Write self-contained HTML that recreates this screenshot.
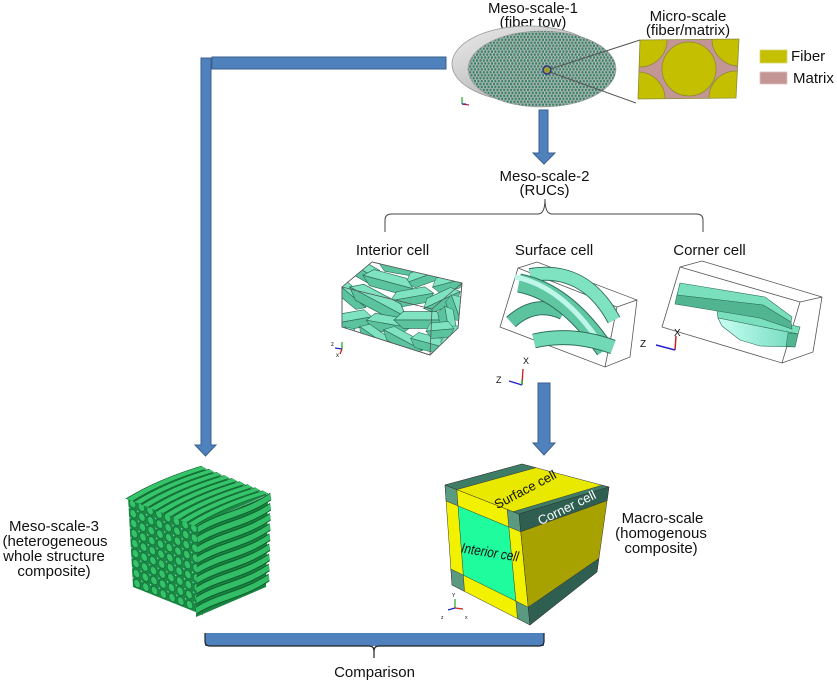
<!DOCTYPE html>
<html><head><meta charset="utf-8"><style>
html,body{margin:0;padding:0;background:#fff;}
svg{display:block;}
text{font-family:"Liberation Sans",Arial,sans-serif;fill:#111;}
</style></head><body>
<svg width="837" height="681" viewBox="0 0 837 681" xmlns="http://www.w3.org/2000/svg">
<defs>
  <pattern id="hexdots" patternUnits="userSpaceOnUse" width="3.4" height="5.9">
    <rect width="3.4" height="5.9" fill="#b6bab6"/>
    <circle cx="0.85" cy="1.47" r="1.35" fill="#38826a"/>
    <circle cx="2.55" cy="4.42" r="1.35" fill="#38826a"/>
  </pattern>
  <linearGradient id="grayg" x1="0" y1="0" x2="1" y2="1">
    <stop offset="0" stop-color="#ececec"/><stop offset="1" stop-color="#9c9c9c"/>
  </linearGradient>
  <pattern id="weavedots" patternUnits="userSpaceOnUse" width="12.5" height="11.1">
    <rect width="12.5" height="11.1" fill="#1a8a45"/>
    <circle cx="6.2" cy="5.5" r="4.6" fill="#34c26a" stroke="#11622f" stroke-width="0.8"/>
    <rect x="0" y="0" width="1.6" height="1.4" fill="#7fe8d6"/>
  </pattern>
  <linearGradient id="cyang" x1="0" y1="0" x2="1" y2="0">
    <stop offset="0" stop-color="#c8fff4"/><stop offset="1" stop-color="#6fd9bb"/>
  </linearGradient>
  <g id="hx">
    <path d="M-20,0 L-13,-6 L13,-6 L20,0 Z" fill="#7fe2c1" stroke="#2f6e5a" stroke-width="0.5"/>
    <path d="M-20,0 L20,0 L13,6 L-13,6 Z" fill="#5bc49f" stroke="#2f6e5a" stroke-width="0.5"/>
  </g>
  <clipPath id="microclip"><polygon points="640,40 739,39 736,98 638,99"/></clipPath>
  <clipPath id="intclip"><polygon points="342,287 372,262 462,283 458,328 430,355 342,327"/></clipPath>
</defs>

<!-- Left L arrow -->
<rect x="212" y="57" width="234" height="12" fill="#4f81bd" stroke="#3a5f8c" stroke-width="1"/>
<polygon points="201,58 211,58 211,445 216,445 205.5,456 195,445 201,445" fill="#4f81bd" stroke="#3a5f8c" stroke-width="1"/>

<!-- Meso-scale-1 -->
<text x="533" y="13" font-size="15" text-anchor="middle">Meso-scale-1</text>
<text x="533" y="27" font-size="15" text-anchor="middle">(fiber tow)</text>
<ellipse cx="528" cy="64" rx="76" ry="38" fill="url(#grayg)" stroke="#999" stroke-width="0.8"/>
<ellipse cx="542" cy="69" rx="74" ry="38" fill="url(#hexdots)" stroke="#999" stroke-width="0.6"/>
<line x1="547" y1="70" x2="640" y2="40" stroke="#555" stroke-width="1"/>
<line x1="547" y1="71" x2="636" y2="103" stroke="#555" stroke-width="1"/>
<circle cx="547" cy="70" r="4" fill="#9d9d35" stroke="#2b3580" stroke-width="1.5"/>
<line x1="462" y1="104" x2="462" y2="97" stroke="#2a2" stroke-width="1.2"/>
<line x1="462" y1="104" x2="469" y2="105" stroke="#c22" stroke-width="1.2"/>
<line x1="462" y1="104" x2="466" y2="104" stroke="#22c" stroke-width="1.2"/>

<!-- Micro-scale -->
<text x="688" y="21" font-size="15" text-anchor="middle">Micro-scale</text>
<text x="688" y="35" font-size="15" text-anchor="middle">(fiber/matrix)</text>
<polygon points="640,40 739,39 736,98 638,99" fill="#c49595"/>
<g clip-path="url(#microclip)" fill="#c4bf00" stroke="#8c8a3a" stroke-width="0.8">
  <circle cx="689" cy="69" r="27"/>
  <circle cx="640" cy="40" r="27"/>
  <circle cx="739" cy="39" r="27"/>
  <circle cx="638" cy="99" r="27"/>
  <circle cx="736" cy="98" r="27"/>
</g>
<polygon points="640,40 739,39 736,98 638,99" fill="none" stroke="#8c8a3a" stroke-width="0.8"/>
<rect x="760" y="50" width="27" height="13" fill="#c4bf00" stroke="#d8d870" stroke-width="0.8"/>
<text x="791" y="61" font-size="15">Fiber</text>
<rect x="760" y="72" width="27" height="12" fill="#c49595" stroke="#e0c0c0" stroke-width="0.8"/>
<text x="793" y="83" font-size="15">Matrix</text>

<!-- Down arrow 1 -->
<polygon points="539,110 548,110 548,153 555,153 544,164 533,153 539,153" fill="#4f81bd" stroke="#3a5f8c" stroke-width="1"/>
<text x="544.5" y="181" font-size="15" text-anchor="middle">Meso-scale-2</text>
<text x="544.5" y="195" font-size="15" text-anchor="middle">(RUCs)</text>

<!-- Brace -->
<path d="M385,232 L385,220 Q385,214 392,214 L538,214 Q545,214 545,199 Q545,214 552,214 L696,214 Q703,214 703,220 L703,232" fill="none" stroke="#444" stroke-width="1"/>

<text x="392.5" y="255" font-size="15" text-anchor="middle">Interior cell</text>
<text x="554" y="255" font-size="15" text-anchor="middle">Surface cell</text>
<text x="709.5" y="255" font-size="15" text-anchor="middle">Corner cell</text>

<!-- Interior cell -->
<g fill="none" stroke="#555" stroke-width="0.8">
  <polygon points="342,287 372,262 462,283 458,328 430,355 342,327"/>
</g>
<g clip-path="url(#intclip)">
<use href="#hx" transform="translate(362,270) rotate(30) scale(1.2,1.4)"/>
<use href="#hx" transform="translate(400,266) rotate(10) scale(1.1,1.3)"/>
<use href="#hx" transform="translate(425,276) rotate(-20) scale(1.0,1.3)"/>
<use href="#hx" transform="translate(448,283) rotate(-15) scale(0.8,1.3)"/>
<use href="#hx" transform="translate(388,282) rotate(15) scale(1.3,1.4)"/>
<use href="#hx" transform="translate(352,296) rotate(40) scale(0.9,1.3)"/>
<use href="#hx" transform="translate(412,297) rotate(-10) scale(1.1,1.3)"/>
<use href="#hx" transform="translate(442,300) rotate(-25) scale(1.0,1.3)"/>
<use href="#hx" transform="translate(456,308) rotate(70) scale(0.7,1.3)"/>
<use href="#hx" transform="translate(378,302) rotate(28) scale(1.6,1.5)"/>
<use href="#hx" transform="translate(354,320) rotate(-10) scale(0.9,1.4)"/>
<use href="#hx" transform="translate(388,324) rotate(10) scale(1.1,1.4)"/>
<use href="#hx" transform="translate(420,320) rotate(0) scale(1.3,1.4)"/>
<use href="#hx" transform="translate(447,320) rotate(80) scale(0.7,1.3)"/>
<use href="#hx" transform="translate(350,340) rotate(70) scale(0.7,1.3)"/>
<use href="#hx" transform="translate(376,338) rotate(35) scale(1.0,1.3)"/>
<use href="#hx" transform="translate(403,340) rotate(28) scale(1.1,1.3)"/>
<use href="#hx" transform="translate(428,343) rotate(15) scale(0.9,1.3)"/>
<use href="#hx" transform="translate(452,338) rotate(-60) scale(0.7,1.3)"/>
<use href="#hx" transform="translate(440,330) rotate(-5) scale(0.7,1.3)"/>
</g>
<g fill="none" stroke="#555" stroke-width="0.8">
  <polygon points="342,287 372,262 462,283 458,328 430,355 342,327"/>
  <line x1="342" y1="287" x2="432" y2="309"/><line x1="432" y1="309" x2="462" y2="283"/><line x1="432" y1="309" x2="430" y2="355"/>
</g>
<g stroke-width="1.3">
<line x1="342" y1="349" x2="342" y2="342" stroke="#2a2"/><line x1="342" y1="349" x2="335" y2="348" stroke="#22c"/><line x1="342" y1="349" x2="340" y2="354" stroke="#c22"/>
</g>
<text x="331" y="346" font-size="6">z</text><text x="336" y="357" font-size="6">x</text>

<!-- Surface cell -->
<g fill="none" stroke="#555" stroke-width="0.8">
  <polygon points="518,268 537,262 637,300 630,357 605,367 500,327"/>
  <line x1="518" y1="268" x2="617" y2="307"/><line x1="617" y1="307" x2="637" y2="300"/><line x1="617" y1="307" x2="605" y2="367"/>
</g>
<g fill="none" stroke-linecap="butt">
  <path d="M530,275 Q585,266 614,320" stroke="#2f6e5a" stroke-width="14"/>
  <path d="M530,275 Q585,266 614,320" stroke="#7fe2c1" stroke-width="12"/>
  <path d="M511,322 Q535,300 563,313" stroke="#2f6e5a" stroke-width="14"/>
  <path d="M511,322 Q535,300 563,313" stroke="#5bc49f" stroke-width="12"/>
  <path d="M519,283 Q566,292 605,350" stroke="#2f6e5a" stroke-width="19"/>
  <path d="M519,283 Q566,292 605,350" stroke="#5fc8a3" stroke-width="17"/>
  <path d="M515,277 Q562,286 600,343" stroke="#bff6ea" stroke-width="5"/>
  <path d="M534,341 Q572,332 613,347" stroke="#2f6e5a" stroke-width="15"/>
  <path d="M534,341 Q572,332 613,347" stroke="#72d9b6" stroke-width="13"/>
</g>
<g stroke-width="1.4">
<line x1="522" y1="385" x2="523" y2="369" stroke="#c22"/><line x1="522" y1="385" x2="509" y2="381" stroke="#22c"/><line x1="522" y1="385" x2="522" y2="380" stroke="#2a2"/>
</g>
<text x="523" y="364" font-size="9">X</text><text x="496" y="383" font-size="9">Z</text>

<!-- Corner cell -->
<g fill="none" stroke="#555" stroke-width="0.8">
  <polygon points="680,267 702,261 822,297 813,352 782,363 662,327"/>
  <line x1="680" y1="267" x2="800" y2="302"/><line x1="800" y1="302" x2="822" y2="297"/><line x1="800" y1="302" x2="782" y2="363"/>
</g>
<polygon points="717,310 760,318 800,327 798,334 758,326 718,318" fill="#79dfbd" stroke="#2f6e5a" stroke-width="0.6"/>
<polygon points="718,318 758,326 798,334 795,347 760,346 740,340 722,326" fill="url(#cyang)" stroke="#2f6e5a" stroke-width="0.6"/>
<polygon points="788,333 798,334 795,347 786,346" fill="#52b592" stroke="#2f6e5a" stroke-width="0.5"/>
<polygon points="680,283 765,297 792,317 791,322 763,305 677,295" fill="#79dfbd" stroke="#2f6e5a" stroke-width="0.6"/>
<polygon points="677,295 763,305 791,322 792,329 760,318 675,304" fill="#52b592" stroke="#2f6e5a" stroke-width="0.6"/>
<g stroke-width="1.5">
<line x1="675" y1="350" x2="676" y2="336" stroke="#c22"/><line x1="675" y1="350" x2="656" y2="345" stroke="#22c"/>
</g>
<text x="674" y="336" font-size="10">X</text><text x="640" y="347" font-size="10">Z</text>

<!-- Down arrow 2 -->
<polygon points="538,383 550,383 550,443 555,443 544,455 533,443 538,443" fill="#4f81bd" stroke="#3a5f8c" stroke-width="1"/>

<!-- Macro cube -->
<g stroke="#333" stroke-width="0.5">
  <polygon points="445,485 519,514 530,625 452,585" fill="#f2f200"/>
  <polygon points="458,505.9 508.8,526.9 515.9,601.1 463.3,575.1" fill="#1ffc9e"/>
  <polygon points="445,485 456.8,489.6 458,505.9 446.1,501" fill="#5a9a80"/>
  <polygon points="507.2,509.4 519,514 520.8,531.8 508.8,526.9" fill="#5a9a80"/>
  <polygon points="515.9,601.1 528.2,607.2 530,625 517.5,618.6" fill="#5a9a80"/>
  <polygon points="450.9,569 463.3,575.1 464.5,591.4 452,585" fill="#5a9a80"/>
  <polygon points="445,485 522,464 609,487 519,514" fill="#e9e900"/>
  <polygon points="445,485 522,464 535.9,467.7 456.8,489.6" fill="#3f7c66"/>
  <polygon points="513.1,511.7 602,485.2 609,487 519,514" fill="#3f7c66"/>
  <polygon points="519,514 609,487 597,572 530,625" fill="#a8a200"/>
  <polygon points="519,514 609,487 607.1,500.6 520.8,531.8" fill="#2f5f50"/>
  <polygon points="528.2,607.2 598.9,558.4 597,572 530,625" fill="#2f5f50"/>
</g>
<text x="525" y="494" font-size="13" text-anchor="middle" transform="rotate(-27.8 525 489)">Surface cell</text>
<text x="567" y="512" font-size="13" text-anchor="middle" style="fill:#fff" transform="rotate(-26 567 508)">Corner cell</text>
<text x="490" y="557" font-size="14" font-style="italic" text-anchor="middle" textLength="58" lengthAdjust="spacingAndGlyphs" transform="rotate(9 490 552)">Interior cell</text>
<g stroke-width="1.2">
<line x1="455" y1="608" x2="455" y2="599" stroke="#2a2"/><line x1="455" y1="608" x2="463" y2="609" stroke="#c22"/><line x1="455" y1="608" x2="448" y2="610" stroke="#22c"/>
</g>
<text x="452" y="597" font-size="5">Y</text><text x="465" y="619" font-size="5">x</text><text x="441" y="619" font-size="5">z</text>
<text x="662.5" y="523" font-size="15" text-anchor="middle">Macro-scale</text>
<text x="661" y="538" font-size="15" text-anchor="middle">(homogenous</text>
<text x="661" y="553" font-size="15" text-anchor="middle">composite)</text>

<!-- Meso-scale-3 woven cube -->
<text x="54" y="531" font-size="15" text-anchor="middle">Meso-scale-3</text>
<text x="55" y="546" font-size="15" text-anchor="middle">(heterogeneous</text>
<text x="54" y="561" font-size="15" text-anchor="middle">whole structure</text>
<text x="54" y="576" font-size="15" text-anchor="middle">composite)</text>

<g transform="matrix(0.70,0.28,0.05,0.90,128,497)">
  <rect x="0" y="0" width="100" height="100" fill="url(#weavedots)"/>
</g>
<g transform="matrix(0.69,-0.30,0.70,0.28,128,497)">
  <rect x="0" y="0" width="100" height="100" fill="#1b8a45"/>
  <g fill="none" stroke="#10602e" stroke-width="10">
    <path d="M-4,6 Q50,-4 104,6"/><path d="M-4,17 Q50,7 104,17"/><path d="M-4,28 Q50,18 104,28"/>
    <path d="M-4,39 Q50,29 104,39"/><path d="M-4,50 Q50,40 104,50"/><path d="M-4,61 Q50,51 104,61"/>
    <path d="M-4,72 Q50,62 104,72"/><path d="M-4,83 Q50,73 104,83"/><path d="M-4,94 Q50,84 104,94"/>
  </g>
  <g fill="none" stroke="#36c46b" stroke-width="7.5">
    <path d="M-4,6 Q50,-4 104,6"/><path d="M-4,17 Q50,7 104,17"/><path d="M-4,28 Q50,18 104,28"/>
    <path d="M-4,39 Q50,29 104,39"/><path d="M-4,50 Q50,40 104,50"/><path d="M-4,61 Q50,51 104,61"/>
    <path d="M-4,72 Q50,62 104,72"/><path d="M-4,83 Q50,73 104,83"/><path d="M-4,94 Q50,84 104,94"/>
  </g>
</g>
<g transform="matrix(0.70,-0.30,-0.02,0.92,198,525)">
  <rect x="0" y="0" width="100" height="100" fill="#17843f"/>
  <g fill="none" stroke="#10602e" stroke-width="9">
    <path d="M0,5 C33,0 66,10 104,3"/><path d="M0,16 C33,11 66,21 104,14"/><path d="M0,27 C33,22 66,32 104,25"/>
    <path d="M0,38 C33,33 66,43 104,36"/><path d="M0,49 C33,44 66,54 104,47"/><path d="M0,60 C33,55 66,65 104,58"/>
    <path d="M0,71 C33,66 66,76 104,69"/><path d="M0,82 C33,77 66,87 104,80"/><path d="M0,93 C33,88 66,98 104,91"/>
  </g>
  <g fill="none" stroke="#33bd66" stroke-width="6.5">
    <path d="M0,5 C33,0 66,10 104,3"/><path d="M0,16 C33,11 66,21 104,14"/><path d="M0,27 C33,22 66,32 104,25"/>
    <path d="M0,38 C33,33 66,43 104,36"/><path d="M0,49 C33,44 66,54 104,47"/><path d="M0,60 C33,55 66,65 104,58"/>
    <path d="M0,71 C33,66 66,76 104,69"/><path d="M0,82 C33,77 66,87 104,80"/><path d="M0,93 C33,88 66,98 104,91"/>
  </g>
</g>

<!-- Comparison bracket -->
<rect x="205" y="633" width="339" height="13" fill="#4f81bd"/>
<path d="M205,633 L205,641 Q205,646 210,646 L369,646 Q374,646 374,651 L374,658 M374,651 Q374,646 379,646 L539,646 Q544,646 544,641 L544,633" fill="none" stroke="#222" stroke-width="1.2"/>
<text x="374.5" y="677" font-size="15" text-anchor="middle">Comparison</text>
</svg>
</body></html>
